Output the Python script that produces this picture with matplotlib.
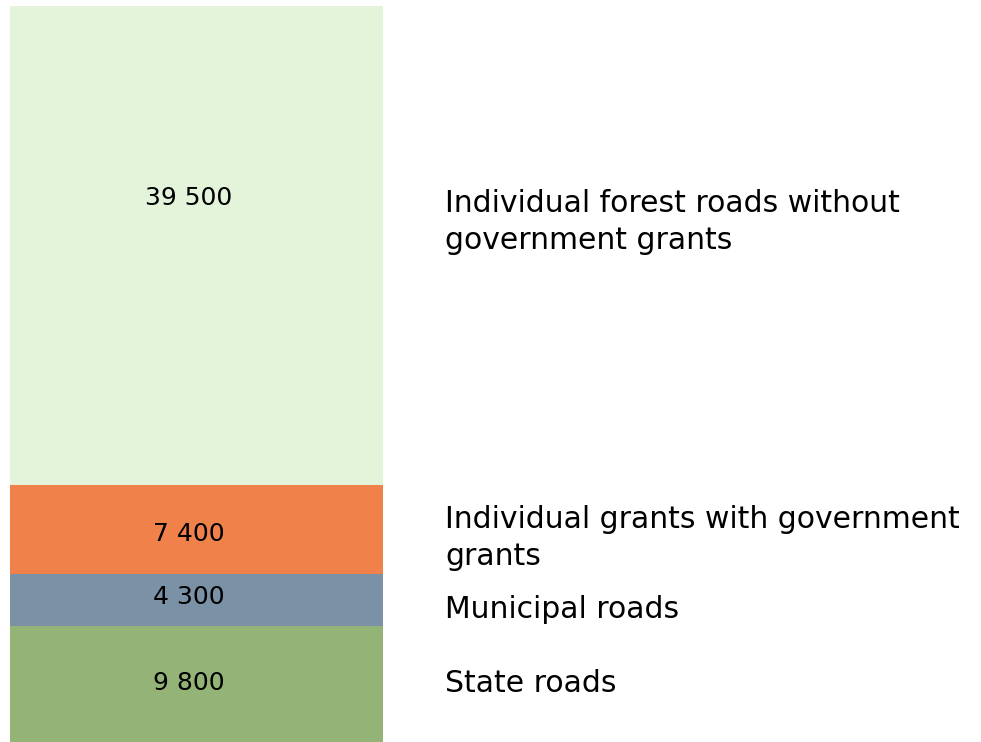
import matplotlib
matplotlib.use("Agg")
import matplotlib.pyplot as plt

categories = ["State roads", "Municipal roads",
              "Individual grants with government\ngrants",
              "Individual forest roads without\ngovernment grants"]
values = [9800, 4300, 7400, 39500]
value_labels = ["9 800", "4 300", "7 400", "39 500"]
colors = ["#94B376", "#7A91A6", "#F0814A", "#E3F4DB"]

W, H = 981, 742
fig = plt.figure(figsize=(W / 100, H / 100), dpi=100)
ax = fig.add_axes([10 / W, -3 / H, 373 / W, 739 / H])
ax.set_xlim(-0.5, 0.5)
ax.set_ylim(0, sum(values))
ax.axis("off")

bottom = 0
for v, c in zip(values, colors):
    ax.bar(0, v, width=1.0, bottom=bottom, color=c, edgecolor="none")
    bottom += v

font = ["DejaVu Sans"]
# text vertical positions (pixels from top of image) for value labels and category labels
value_y_px = [683, 597, 534, 198]
cat_y_px = [683, 609, 538, 222]
for vl, yv, cat, yc in zip(value_labels, value_y_px, categories, cat_y_px):
    fig.text(189 / W, 1 - yv / H, vl, ha="center", va="center", fontsize=18,
             family=font, color="#000000")
    fig.text(445 / W, 1 - yc / H, cat, ha="left", va="center", fontsize=21.5,
             family=font, color="#000000", linespacing=1.33)

fig.savefig("out.png", dpi=100)
